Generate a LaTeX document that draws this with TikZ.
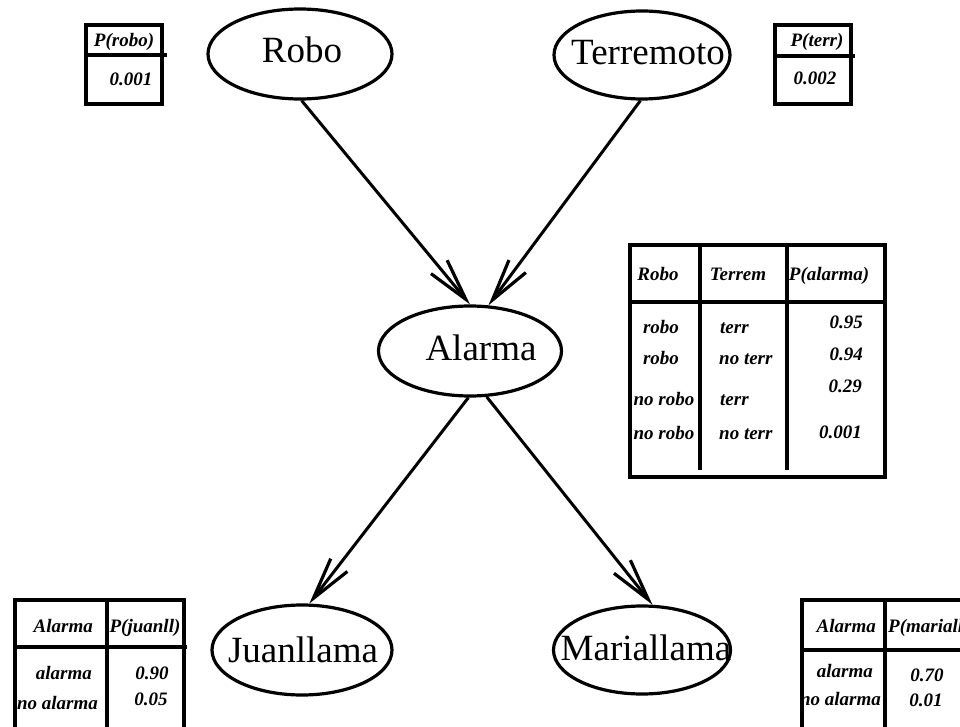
\documentclass[tikz,border=0pt]{standalone}
\usepackage{fontspec}
\setmainfont{Liberation Serif}
\usetikzlibrary{shapes.geometric,arrows.meta}
\begin{document}
\begin{tikzpicture}[x=1pt,y=-1pt,
  ell/.style={draw, ellipse, line width=3.2pt, inner sep=0pt},
  lbl/.style={font=\fontsize{37}{40}\selectfont, inner sep=0pt, anchor=base},
  cell/.style={font=\fontsize{19}{22}\selectfont\bfseries\itshape, inner sep=0pt, anchor=base},
  arr/.style={line width=3pt, -{Straight Barb[length=42pt,width=21pt,line width=3.2pt]}},
  tbl/.style={line width=4pt}]
\useasboundingbox (0,0) rectangle (960,727);
\clip (0,0) rectangle (960,727);

% --- network nodes ---
\node[ell, minimum width=184pt, minimum height=90pt] (robo) at (300,54) {};
\node[lbl] (robo-t) at (302,63) {Robo};
\node[ell, minimum width=176pt, minimum height=88pt] (terr) at (642,55) {};
\node[lbl] (terr-t) at (648,65) {Terremoto};
\node[ell, minimum width=183pt, minimum height=90pt] (alarma) at (470,351) {};
\node[lbl] (alarma-t) at (481,360) {Alarma};
\node[ell, minimum width=180pt, minimum height=90pt] (juan) at (302,650) {};
\node[lbl] (juan-t) at (303,662) {Juanllama};
\node[ell, minimum width=177pt, minimum height=88pt] (maria) at (642,650) {};
\node[lbl] (maria-t) at (646,660) {Mariallama};

% --- dependencies ---
\draw[arr] (robo.272) -- (alarma.90);
\draw[arr] (terr.268) -- (alarma.68);
\draw[arr] (alarma.268) -- (juan.81);
\draw[arr] (alarma.290) -- (maria.77);

% --- P(robo) ---
\draw[tbl] (86,25) rectangle (162,104);
\draw[tbl] (86,55) -- (167,55);
\node[cell] (pr-h) at (124,47) {P(robo)};
\node[cell] (pr-v) at (131,86) {0.001};

% --- P(terr) ---
\draw[tbl] (775,25) rectangle (851,104);
\draw[tbl] (775,56) -- (855,56);
\node[cell] (pt-h) at (817,47) {P(terr)};
\node[cell] (pt-v) at (815,85) {0.002};

% --- P(alarma | robo, terr) ---
\draw[tbl] (630,245) rectangle (885,477);
\draw[tbl] (630,302) -- (885,302);
\draw[tbl] (700,245) -- (700,470);
\draw[tbl] (787,245) -- (787,470);
\node[cell] (pa-h1) at (658,280) {Robo};
\node[cell] (pa-h2) at (738,280) {Terrem};
\node[cell] (pa-h3) at (829,280) {P(alarma)};
\node[cell] (pa-r1a) at (661,333) {robo};
\node[cell] (pa-r2a) at (661,364) {robo};
\node[cell] (pa-r3a) at (664,405) {no robo};
\node[cell] (pa-r4a) at (664,439) {no robo};
\node[cell, anchor=base west] (pa-r1b) at (720,333) {terr};
\node[cell, anchor=base west] (pa-r2b) at (719,364) {no terr};
\node[cell, anchor=base west] (pa-r3b) at (720,405) {terr};
\node[cell, anchor=base west] (pa-r4b) at (719,439) {no terr};
\node[cell, anchor=base east] (pa-r1c) at (863,328) {0.95};
\node[cell, anchor=base east] (pa-r2c) at (863,360) {0.94};
\node[cell, anchor=base east] (pa-r3c) at (862,392) {0.29};
\node[cell, anchor=base east] (pa-r4c) at (862,438) {0.001};

% --- P(juanll | alarma) ---
\draw[tbl] (15,740) -- (15,600) -- (184,600) -- (184,740);
\draw[tbl] (107,600) -- (107,740);
\draw[tbl] (15,647) -- (187,647);
\node[cell, anchor=base east] (pj-h1) at (93,632) {Alarma};
\node[cell] (pj-h2) at (145,632) {P(juanll)};
\node[cell, anchor=base east] (pj-r1a) at (92,679) {alarma};
\node[cell, anchor=base east] (pj-r2a) at (98,709) {no alarma};
\node[cell] (pj-r1b) at (152,679) {0.90};
\node[cell] (pj-r2b) at (151,705) {0.05};

% --- P(mariall | alarma) ---
\draw[tbl] (802,740) -- (802,600) -- (970,600);
\draw[tbl] (885,600) -- (885,740);
\draw[tbl] (802,650) -- (970,650);
\node[cell, anchor=base east] (pm-h1) at (876,632) {Alarma};
\node[cell, anchor=base west] (pm-h2) at (888,632) {P(mariall)};
\node[cell, anchor=base east] (pm-r1a) at (873,677) {alarma};
\node[cell, anchor=base east] (pm-r2a) at (881,705) {no alarma};
\node[cell] (pm-r1b) at (927,681) {0.70};
\node[cell] (pm-r2b) at (926,706) {0.01};
\end{tikzpicture}
\end{document}
